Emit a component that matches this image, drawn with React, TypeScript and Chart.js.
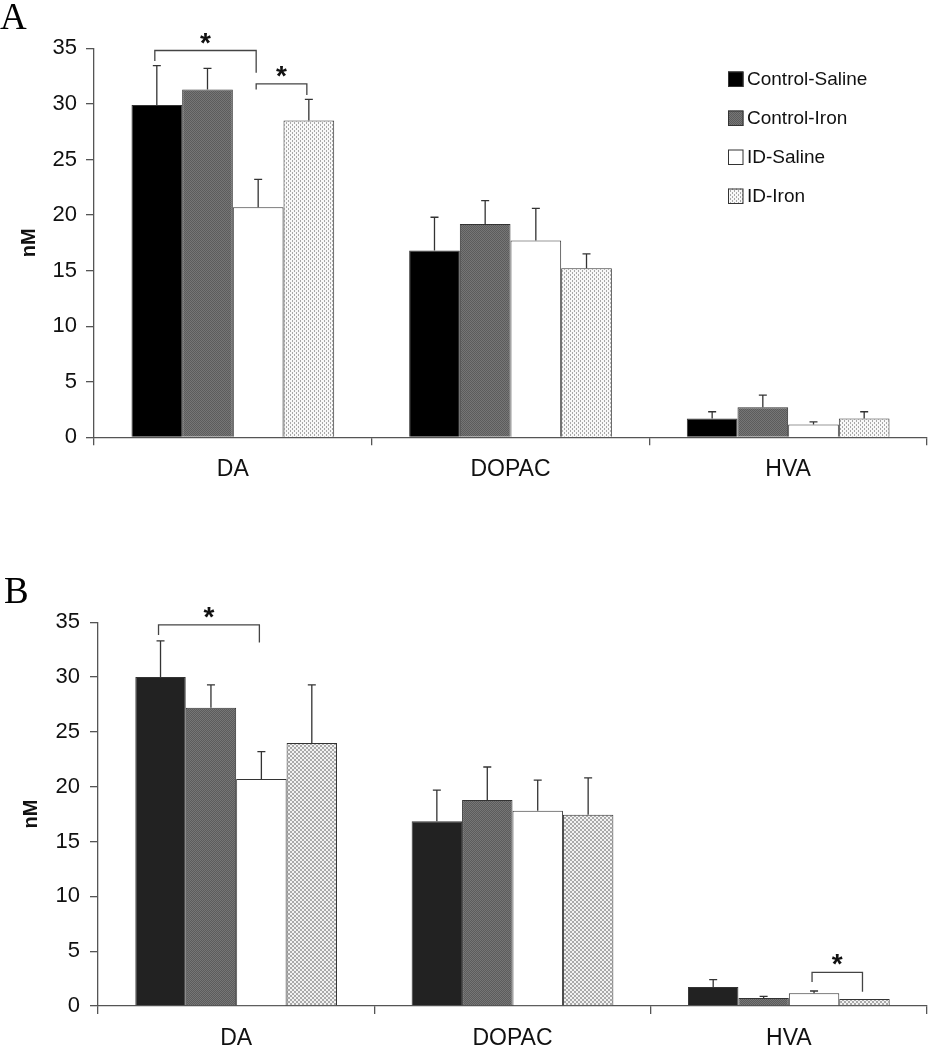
import React, { useEffect, useRef } from 'react';
import { Chart, registerables } from 'chart.js';

Chart.register(...registerables);

// ---------- data ----------
const categories = ['DA', 'DOPAC', 'HVA'];
const seriesLabels = ['Control-Saline', 'Control-Iron', 'ID-Saline', 'ID-Iron'];
const yMin = 0;
const yMax = 35;
const yStep = 5;

// Panel A (means and SE)
const ctrlSalineA = [29.9, 16.8, 1.7];
const ctrlIronA = [31.3, 19.2, 2.7];
const idSalineA = [20.7, 17.7, 1.15];
const idIronA = [28.5, 15.2, 1.7];
const ctrlSalineErrA = [3.55, 3.0, 0.6];
const ctrlIronErrA = [1.9, 2.1, 1.1];
const idSalineErrA = [2.5, 2.9, 0.23];
const idIronErrA = [1.9, 1.3, 0.6];

// Panel B (means and SE)
const ctrlSalineB = [30.0, 16.85, 1.73];
const ctrlIronB = [27.2, 18.8, 0.73];
const idSalineB = [20.7, 17.8, 1.16];
const idIronB = [24.0, 17.45, 0.64];
const ctrlSalineErrB = [3.3, 2.85, 0.67];
const ctrlIronErrB = [2.1, 3.0, 0.15];
const idSalineErrB = [2.5, 2.8, 0.21];
const idIronErrB = [5.3, 3.35, 0];

// significance brackets: category, from series, to series, bar level, left / right drop levels
const bracketsA = [
  { cat: 0, from: 0, to: 2, level: 34.8, leftEnd: 33.85, rightEnd: 32.8 },
  { cat: 0, from: 2, to: 3, level: 31.8, leftEnd: 31.3, rightEnd: 30.8 },
];
const bracketsB = [
  { cat: 0, from: 0, to: 2, level: 34.76, leftEnd: 33.85, rightEnd: 33.15 },
  { cat: 2, from: 2, to: 3, level: 3.07, leftEnd: 2.2, rightEnd: 1.3 },
];

// ---------- styling helpers ----------
const SANS = '"Liberation Sans", Arial, sans-serif';
const SERIF = '"Liberation Serif", "Times New Roman", serif';
const AXIS = '#555555';
const INK = '#111111';

function makePattern(kind: string): CanvasPattern | string {
  const c = document.createElement('canvas');
  const ctx = c.getContext('2d');
  if (!ctx) return '#888';
  if (kind === 'gray') {
    c.width = 2; c.height = 2;
    ctx.fillStyle = '#767676'; ctx.fillRect(0, 0, 2, 2);
    ctx.fillStyle = '#5c5c5c'; ctx.fillRect(0, 0, 1, 1); ctx.fillRect(1, 1, 1, 1);
  } else if (kind === 'dots') {
    c.width = 4; c.height = 4;
    ctx.fillStyle = '#f8f8f8'; ctx.fillRect(0, 0, 4, 4);
    ctx.fillStyle = '#a8a8a8';
    ctx.fillRect(0, 0, 1, 1); ctx.fillRect(0, 1, 1, 1);
    ctx.fillRect(2, 2, 1, 1); ctx.fillRect(2, 3, 1, 1);
  } else {
    c.width = 4; c.height = 4;
    ctx.fillStyle = '#f2f2f2'; ctx.fillRect(0, 0, 4, 4);
    ctx.fillStyle = '#aaaaaa'; ctx.fillRect(0, 0, 2, 2); ctx.fillRect(2, 2, 2, 2);
  }
  return ctx.createPattern(c, 'repeat') || '#888';
}

type Bracket = { cat: number; from: number; to: number; level: number; leftEnd: number; rightEnd: number };

interface PanelSpec {
  letter: string;
  letterX: number;
  letterY: number;
  values: number[][];
  errors: number[][];
  fills: (string | CanvasPattern)[];
  brackets: Bracket[];
  legend: boolean;
  padTop: number;
  padBottom: number;
  yWidth: number;
  xHeight: number;
  yTitlePad: number;
  yTickPad: number;
  xTickPad: number;
}

function buildChart(canvas: HTMLCanvasElement, spec: PanelSpec) {
  const extras = {
    id: 'extras',
    afterDatasetsDraw(chart: any) {
      const ctx: CanvasRenderingContext2D = chart.ctx;
      const y = chart.scales.y;
      ctx.save();
      // error bars (upper only)
      ctx.strokeStyle = '#333333';
      ctx.lineWidth = 1.3;
      spec.values.forEach((vals, di) => {
        const meta = chart.getDatasetMeta(di);
        meta.data.forEach((bar: any, i: number) => {
          const e = spec.errors[di][i];
          if (!e) return;
          const top = y.getPixelForValue(vals[i] + e);
          ctx.beginPath();
          ctx.moveTo(bar.x, bar.y);
          ctx.lineTo(bar.x, top);
          ctx.moveTo(bar.x - 4, top);
          ctx.lineTo(bar.x + 4, top);
          ctx.stroke();
        });
      });
      // significance brackets
      ctx.strokeStyle = '#444444';
      ctx.fillStyle = INK;
      spec.brackets.forEach((b) => {
        const x1 = chart.getDatasetMeta(b.from).data[b.cat].x - 2;
        const x2 = chart.getDatasetMeta(b.to).data[b.cat].x - 2;
        const yl = y.getPixelForValue(b.level);
        ctx.beginPath();
        ctx.moveTo(x1, y.getPixelForValue(b.leftEnd));
        ctx.lineTo(x1, yl);
        ctx.lineTo(x2, yl);
        ctx.lineTo(x2, y.getPixelForValue(b.rightEnd));
        ctx.stroke();
        ctx.font = `bold 28px ${SANS}`;
        ctx.textAlign = 'center';
        ctx.textBaseline = 'alphabetic';
        ctx.fillText('*', (x1 + x2) / 2, yl + 1);
      });
      ctx.restore();
    },
    afterDraw(chart: any) {
      const ctx: CanvasRenderingContext2D = chart.ctx;
      ctx.save();
      ctx.fillStyle = '#000';
      ctx.font = `37px ${SERIF}`;
      ctx.textAlign = 'left';
      ctx.textBaseline = 'alphabetic';
      ctx.fillText(spec.letter, spec.letterX, spec.letterY);
      if (spec.legend) {
        const area = chart.chartArea;
        const lx = area.right - 199;
        ctx.font = `19px ${SANS}`;
        ctx.textBaseline = 'middle';
        chart.data.datasets.forEach((ds: any, i: number) => {
          const cy = area.top + 30.7 + i * 39;
          ctx.fillStyle = ds.backgroundColor;
          ctx.fillRect(lx, cy - 7.5, 15.5, 15.5);
          ctx.strokeStyle = '#333';
          ctx.lineWidth = 1;
          ctx.strokeRect(lx + 0.5, cy - 7, 14.5, 14.5);
          ctx.fillStyle = INK;
          ctx.fillText(ds.label, lx + 19, cy + 1);
        });
      }
      ctx.restore();
    },
  };

  return new Chart(canvas, {
    type: 'bar',
    data: {
      labels: categories,
      datasets: spec.values.map((vals, i) => ({
        label: seriesLabels[i],
        data: vals,
        backgroundColor: spec.fills[i] as any,
        borderColor: '#333333',
        borderWidth: 1,
        categoryPercentage: 0.73,
        barPercentage: 1.0,
      })),
    },
    options: {
      responsive: false,
      animation: false,
      devicePixelRatio: 1,
      layout: { padding: { left: 0, right: 4, top: spec.padTop, bottom: spec.padBottom } },
      plugins: { legend: { display: false }, tooltip: { enabled: false }, title: { display: false } },
      scales: {
        x: {
          grid: { offset: true, drawOnChartArea: false, drawTicks: true, tickLength: 8, color: AXIS, lineWidth: 1.3 },
          border: { display: true, color: AXIS, width: 1.3 },
          ticks: { color: INK, font: { family: SANS, size: 23 }, padding: spec.xTickPad, maxRotation: 0 },
          afterFit: (s: any) => { s.height = spec.xHeight; },
        },
        y: {
          min: yMin,
          max: yMax,
          ticks: { stepSize: yStep, color: INK, font: { family: SANS, size: 22 }, padding: spec.yTickPad },
          grid: { drawOnChartArea: false, drawTicks: true, tickLength: 8, color: AXIS, lineWidth: 1.3 },
          border: { display: true, color: AXIS, width: 1.3 },
          title: { display: true, text: 'nM', color: INK, font: { family: SANS, size: 20, weight: 'bold' }, padding: { top: spec.yTitlePad, bottom: 0 } },
          afterFit: (s: any) => { s.width = spec.yWidth; },
        },
      },
    },
    plugins: [extras],
  } as any);
}

function Panel({ spec, top }: { spec: () => PanelSpec; top: number }) {
  const ref = useRef<HTMLCanvasElement>(null);
  useEffect(() => {
    if (!ref.current) return;
    const chart = buildChart(ref.current, spec());
    return () => chart.destroy();
  }, []);
  return (
    <canvas
      ref={ref}
      width={931}
      height={525}
      style={{ position: 'absolute', left: 0, top, width: 931, height: 525 }}
    />
  );
}

export default function App() {
  const specA = (): PanelSpec => ({
    letter: 'A',
    letterX: 0,
    letterY: 29,
    values: [ctrlSalineA, ctrlIronA, idSalineA, idIronA],
    errors: [ctrlSalineErrA, ctrlIronErrA, idSalineErrA, idIronErrA],
    fills: ['#000000', makePattern('gray'), '#ffffff', makePattern('dots')],
    brackets: bracketsA,
    legend: true,
    padTop: 48.3,
    padBottom: 27.7,
    yWidth: 94,
    xHeight: 60,
    yTitlePad: 17.5,
    yTickPad: 9,
    xTickPad: 11,
  });
  const specB = (): PanelSpec => ({
    letter: 'B',
    letterX: 4,
    letterY: 78,
    values: [ctrlSalineB, ctrlIronB, idSalineB, idIronB],
    errors: [ctrlSalineErrB, ctrlIronErrB, idSalineErrB, idIronErrB],
    fills: ['#222222', makePattern('gray'), '#ffffff', makePattern('check')],
    brackets: bracketsB,
    legend: false,
    padTop: 97.3,
    padBottom: 0,
    yWidth: 98,
    xHeight: 44,
    yTitlePad: 19,
    yTickPad: 10,
    xTickPad: 10.7,
  });
  return (
    <div style={{ position: 'absolute', left: 0, top: 0, width: 931, height: 1050, background: '#fff' }}>
      <Panel spec={specA} top={0} />
      <Panel spec={specB} top={525} />
    </div>
  );
}
